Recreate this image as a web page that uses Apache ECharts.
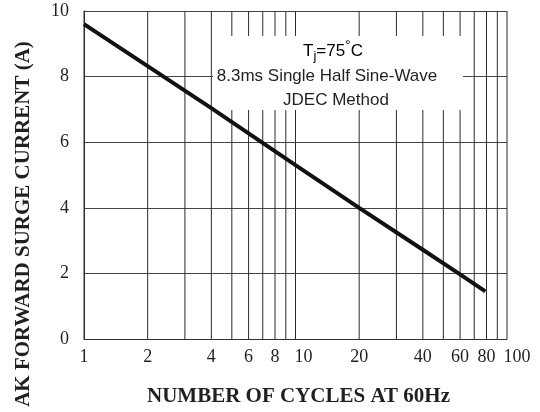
<!DOCTYPE html>
<html><head><meta charset="utf-8">
<script src="https://cdn.jsdelivr.net/npm/echarts@6/dist/echarts.min.js"></script>
<style>html,body{margin:0;padding:0;background:#fff}#c{width:540px;height:412px}</style>
</head><body><div id="c"></div>
<script>
// Data
const cycles = [1, 2, 4, 10, 20, 40, 60, 79];
const current = [9.6, 8.32, 7.04, 5.3, 4.0, 2.72, 1.97, 1.45];
const gridX = [1, 2, 3, 4, 5, 6, 7, 8, 9, 10, 20, 30, 40, 50, 60, 70, 80, 90, 100];
const xTickLabels = [1, 2, 4, 6, 8, 10, 20, 40, 60, 80, 100];
const yTicks = [0, 2, 4, 6, 8, 10];
const noteLines = ['Tj=75°C', '8.3ms Single Half Sine-Wave', 'JDEC Method'];

// style: small horizontal nudges of some tick labels (px)
const labelNudge = {10: 8, 100: 10};

const chart = echarts.init(document.getElementById('c'), null, {renderer: 'canvas'});
const serif = 'Liberation Serif, Times New Roman, serif';
const sans = 'Liberation Sans, Arial, sans-serif';

chart.setOption({
  animation: false,
  backgroundColor: '#fff',
  grid: {left: 84, right: 33, top: 11, bottom: 67},
  xAxis: {
    type: 'log', logBase: 10, min: 1, max: 100,
    axisLine: {show: true, lineStyle: {color: '#333', width: 1}},
    axisTick: {show: false}, axisLabel: {show: false}, splitLine: {show: false},
    name: 'NUMBER OF CYCLES AT 60Hz', nameLocation: 'middle', nameGap: 47,
    nameTextStyle: {fontFamily: serif, fontWeight: 'bold', fontSize: 21, color: '#231f20', padding: [0, 0, 0, 6]}
  },
  yAxis: {
    type: 'value', min: yTicks[0], max: yTicks[yTicks.length - 1], interval: 2,
    axisLine: {show: true, lineStyle: {color: '#333', width: 1}},
    axisTick: {show: false},
    axisLabel: {fontFamily: serif, fontSize: 18, color: '#231f20', margin: 15},
    splitLine: {show: true, lineStyle: {color: '#444', width: 1}}
  },
  series: [
    {
      type: 'custom', z: 2, silent: true,
      data: gridX.map(v => [v, 0]),
      renderItem: function (params, api) {
        const x = api.value(0);
        const p0 = api.coord([x, 0]);
        const p1 = api.coord([x, 10]);
        const children = [{
          type: 'line',
          shape: {x1: p0[0], y1: p0[1], x2: p1[0], y2: p1[1]},
          style: {stroke: '#2b2b2b', lineWidth: 1}
        }];
        if (xTickLabels.indexOf(x) >= 0) {
          children.push({
            type: 'text',
            style: {x: p0[0] + (labelNudge[x] || 0), y: p0[1] + 18, text: String(x), textAlign: 'center', textVerticalAlign: 'middle',
              font: '18px ' + serif, fill: '#231f20'}
          });
        }
        return {type: 'group', children: children};
      }
    },
    {
      type: 'line', z: 4, data: cycles.map((c, i) => [c, current[i]]),
      showSymbol: false, symbol: 'none', smooth: false,
      lineStyle: {color: '#111', width: 4}
    }
  ],
  graphic: [
    {type: 'rect', z: 3, shape: {x: 213, y: 36, width: 250, height: 74}, style: {fill: '#fff'}},
    {type: 'text', z: 60, x: 333, y: 51, style: {
      text: '{a|T}{s|j}{a|=75}{p|°}{a|C}', textAlign: 'center', textVerticalAlign: 'middle',
      rich: {
        a: {fontFamily: sans, fontSize: 17, color: '#231f20'},
        s: {fontFamily: sans, fontSize: 13, color: '#231f20', padding: [10, 0, 0, 0]},
        p: {fontFamily: sans, fontSize: 14, color: '#231f20', padding: [0, 0, 10, 0]}
      }}},
    {type: 'text', z: 60, x: 327, y: 76, style: {text: noteLines[1], textAlign: 'center', textVerticalAlign: 'middle', font: '17px ' + sans, fill: '#231f20'}},
    {type: 'text', z: 60, x: 336, y: 100, style: {text: noteLines[2], textAlign: 'center', textVerticalAlign: 'middle', font: '17px ' + sans, fill: '#231f20'}},
    {type: 'text', z: 60, x: 24, y: 224, rotation: Math.PI / 2, style: {
      text: 'AK FORWARD SURGE CURRENT (A)', textAlign: 'center', textVerticalAlign: 'middle',
      font: 'bold 21px ' + serif, fill: '#231f20'}}
  ]
});
</script></body></html>
